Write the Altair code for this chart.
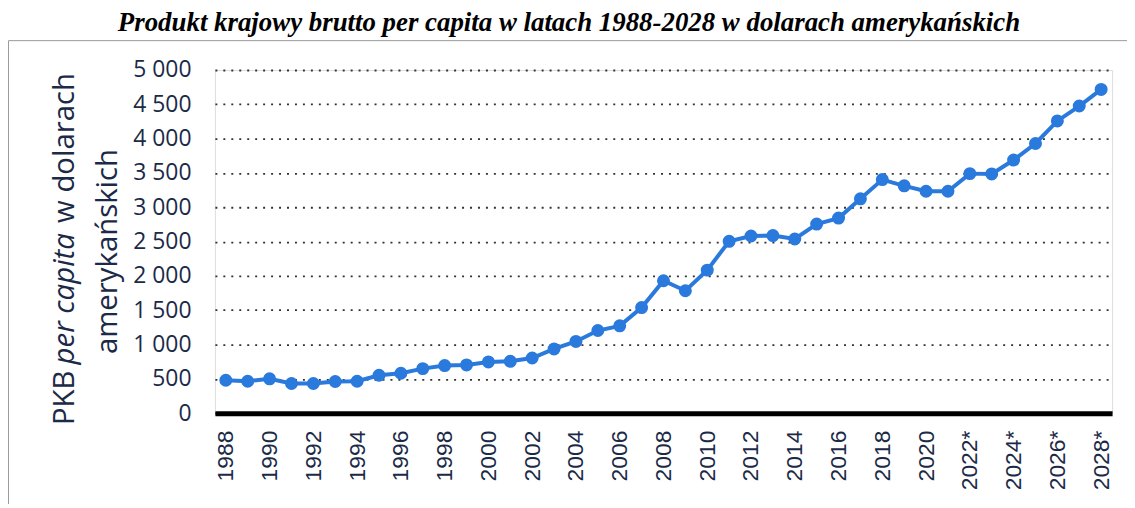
import altair as alt
import pandas as pd

years = list(range(1988, 2029))
gdp = [480, 465, 500, 432, 432, 461, 465, 552, 581, 649, 693, 703, 746, 755, 804, 935, 1045,
       1204, 1272, 1538, 1929, 1784, 2084, 2504, 2581, 2587, 2538, 2755, 2842, 3123, 3403,
       3312, 3233, 3233, 3490, 3486, 3688, 3929, 4258, 4475, 4717]
forecast_from = 2022
title_text = "Produkt krajowy brutto per capita w latach 1988-2028 w dolarach amerykańskich"
ytitle_parts = ["PKB", "per capita", "w dolarach", "amerykańskich"]
y_ticks = list(range(0, 5001, 500))

df = pd.DataFrame({"year": years, "gdp": gdp})

NAVY = "#1b2a47"
BLUE = "#2a79dd"
YT_SIZE = 29.5

base = alt.Chart(df).encode(
    x=alt.X("year:O",
            scale=alt.Scale(type="point", padding=0.5),
            axis=alt.Axis(title=None, labelAngle=270, ticks=False, labelPadding=17,
                          labelFont="Liberation Sans", labelFontSize=23, labelColor=NAVY,
                          labelOverlap=False, domainColor="black", domainWidth=5, grid=False,
                          labelExpr=f"datum.value % 2 == 0 ? (datum.value >= {forecast_from} ? datum.value + '*' : '' + datum.value) : ''")),
    y=alt.Y("gdp:Q",
            scale=alt.Scale(domain=[0, 5000], nice=False),
            axis=alt.Axis(title=None, values=y_ticks, ticks=False, domain=False, labelPadding=24,
                          labelFont="Open Sans", labelFontSize=23, labelColor=NAVY,
                          grid=True, gridColor="#333333", gridDash=[2, 6], gridWidth=1.8,
                          labelExpr="replace(format(datum.value, ','), ',', ' ')")),
)

line = base.mark_line(color=BLUE, strokeWidth=4)
pts = base.mark_circle(color=BLUE, size=170, opacity=1)

one = pd.DataFrame({"k": [0]})

frame_top = alt.Chart(one).mark_rule(color="#999999", strokeWidth=1).encode(
    x=alt.value(-207.5), x2=alt.value(950), y=alt.value(-29.5))
frame_left = alt.Chart(one).mark_rule(color="#999999", strokeWidth=1).encode(
    x=alt.value(-207.5), y=alt.value(-29.5), y2=alt.value(500))

title = alt.Chart(one).mark_text(
    text=title_text, font="Liberation Serif", fontStyle="italic", fontWeight="bold",
    fontSize=27, color="black", align="center", baseline="alphabetic"
).encode(x=alt.value(356), y=alt.value(-39))

yt1 = alt.Chart(one).mark_text(
    text=ytitle_parts[0], font="Open Sans", fontSize=YT_SIZE, color=NAVY, angle=270,
    align="left", baseline="alphabetic").encode(x=alt.value(-142), y=alt.value(357))
yt2 = alt.Chart(one).mark_text(
    text=ytitle_parts[1], font="Open Sans", fontStyle="italic", fontSize=YT_SIZE, color=NAVY, angle=270,
    align="left", baseline="alphabetic").encode(x=alt.value(-142), y=alt.value(296))
yt3 = alt.Chart(one).mark_text(
    text=ytitle_parts[2], font="Open Sans", fontSize=YT_SIZE, color=NAVY, angle=270,
    align="right", baseline="alphabetic").encode(x=alt.value(-142), y=alt.value(3))
yt4 = alt.Chart(one).mark_text(
    text=ytitle_parts[3], font="Open Sans", fontSize=YT_SIZE, color=NAVY, angle=270,
    align="center", baseline="alphabetic").encode(x=alt.value(-98), y=alt.value(182.5))

chart = alt.layer(line, pts, frame_top, frame_left, title, yt1, yt2, yt3, yt4).properties(
    width=902, height=345,
    autosize=alt.AutoSizeParams(type="none"),
    padding={"left": 208, "top": 61, "right": 15, "bottom": 90},
).configure_view(stroke=None).configure(background="white")

chart.save("out.html", embed_options={"renderer": "svg", "actions": False})
